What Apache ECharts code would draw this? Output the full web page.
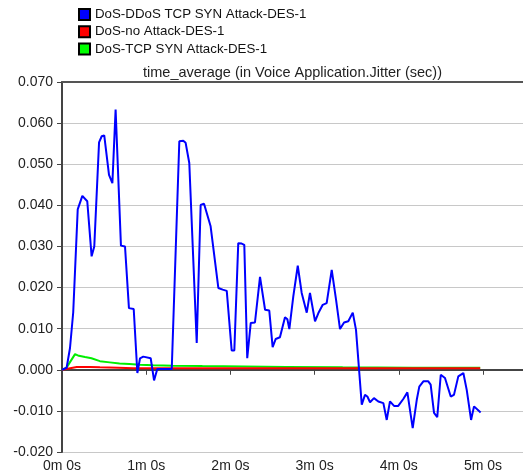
<!DOCTYPE html>
<html>
<head>
<meta charset="utf-8">
<script src="https://cdn.jsdelivr.net/npm/echarts@6/dist/echarts.min.js"></script>
<style>html,body{margin:0;padding:0;background:#fff}#c{width:523px;height:474px}</style>
</head>
<body>
<div id="c"></div>
<script>
const seriesNames = ["DoS-DDoS TCP SYN Attack-DES-1", "DoS-no Attack-DES-1", "DoS-TCP SYN Attack-DES-1"];
const titleText = "time_average (in Voice Application.Jitter (sec))";

const ddosTime = [0,1,3.3,5.7,8,11.2,14.5,18,21.1,23,26.4,28.3,30.1,33.5,35.9,38.2,39.4,42,44.9,47.7,51.1,53.7,55.6,57.9,63.2,65.6,67.9,70,78.2,83.6,86.4,88.1,90.7,96,98.8,101.2,105.9,111.4,114.5,117.4,120.9,122.8,125.6,128,129.9,132,134.5,137.5,141.1,144.7,147.7,150.1,152.3,155.3,158.9,160.6,162,164.8,168,170.8,174.4,176.7,180.3,182.7,185.8,188.6,192.2,195.3,198.1,201,204,207.2,209.5,213.6,215.9,217.6,219.5,222.3,225.4,229,231.4,233.7,236.6,239.6,243.2,246.1,249.9,252.8,254.6,257.5,261,262.7,265.1,267.4,269.9,272.9,277,279.3,282.4,286,288.4,291.5,293.6,295,298.3];
const ddosJitter = [0,0,0.0005,0.0053,0.014,0.039,0.0423,0.041,0.0276,0.030,0.0553,0.0568,0.057,0.0474,0.0454,0.0633,0.063,0.0302,0.030,0.015,0.0148,-0.0008,0.0028,0.0032,0.0028,-0.0026,0.0002,0.0002,0.0002,0.0556,0.0557,0.0552,0.0503,0.0065,0.0401,0.0404,0.0349,0.0199,0.0195,0.0192,0.0047,0.0047,0.0308,0.0307,0.0304,0.0028,0.0114,0.0115,0.0226,0.0146,0.0144,0.0055,0.0075,0.0079,0.0128,0.0123,0.0099,0.0178,0.0253,0.0187,0.0139,0.0187,0.0118,0.0138,0.0158,0.0162,0.0243,0.017,0.0099,0.0115,0.0118,0.0139,0.0097,-0.0085,-0.0061,-0.0065,-0.0079,-0.0069,-0.0077,-0.0081,-0.0122,-0.0077,-0.0088,-0.0088,-0.0071,-0.0055,-0.0142,-0.0073,-0.0041,-0.0028,-0.0028,-0.0036,-0.0105,-0.0115,-0.0012,-0.002,-0.0065,-0.0061,-0.0016,-0.0008,-0.0049,-0.0122,-0.0089,-0.0092,-0.0104];

const noAttackTime = [0,3,10.5,20,27,40,51,70,100,150,200,250,298];
const noAttackJitter = [0,0.0002,0.0007,0.0007,0.0006,0.0005,0.0004,0.0004,0.00035,0.00035,0.00035,0.00035,0.00035];

const synTime = [0,3,9.3,12,16.4,21,27,34,41,48,55.6,65,79,100,130,160,200,250,298];
const synJitter = [0,0.0004,0.0038,0.0034,0.0031,0.0028,0.0021,0.0018,0.0015,0.0014,0.0012,0.0011,0.001,0.0009,0.0008,0.0007,0.0006,0.0005,0.0005];

const yTickMin = -0.02, yTickMax = 0.07, yTickStep = 0.01;
const xTickStep = 60, xMax = 328.5;

function zip(t, v) { return t.map((x, i) => [x, v[i]]); }

const chart = echarts.init(document.getElementById('c'), null, {renderer: 'canvas'});
const font = 'Arial, "Liberation Sans", sans-serif';
chart.setOption({
  animation: false,
  backgroundColor: '#ffffff',
  textStyle: {fontFamily: font},
  title: {
    text: titleText,
    left: 143, top: 65, padding: 0,
    textStyle: {fontSize: 14.5, fontWeight: 'normal', color: '#222', fontFamily: font}
  },
  legend: {
    orient: 'vertical', left: 78, top: 8, padding: 0,
    itemWidth: 11, itemHeight: 11, itemGap: 4.2,
    icon: 'rect',
    data: [seriesNames[0], seriesNames[1], seriesNames[2]],
    textStyle: {fontSize: 13.3, color: '#111', fontFamily: font}
  },
  grid: {left: 62, top: 82, right: 0, bottom: 22, containLabel: false},
  xAxis: [{
    type: 'value', min: 0, max: xMax, interval: xTickStep,
    axisLine: {show: true, lineStyle: {color: '#444', width: 2}},
    axisTick: {show: true, length: 5, lineStyle: {color: '#444'}},
    axisLabel: {
      color: '#222', fontSize: 14, margin: 7, showMaxLabel: false,
      formatter: v => (Math.abs(v % 60) < 1e-6 ? Math.round(v / 60) + 'm 0s' : '')
    },
    splitLine: {show: false}
  }, {
    type: 'value', position: 'top', min: 0, max: xMax,
    axisLine: {show: true, onZero: false, lineStyle: {color: '#555', width: 2}},
    axisTick: {show: false}, axisLabel: {show: false}, splitLine: {show: false}
  }],
  yAxis: {
    type: 'value', min: yTickMin, max: yTickMax, interval: yTickStep,
    axisLine: {show: true, onZero: false, lineStyle: {color: '#444', width: 2}},
    axisTick: {show: true, length: 5, lineStyle: {color: '#444'}},
    axisLabel: {color: '#222', fontSize: 14, margin: 9, formatter: v => v.toFixed(3)},
    splitLine: {show: true, lineStyle: {color: '#c8c8c8', width: 1}}
  },
  series: [
    {name: seriesNames[2], type: 'line', data: zip(synTime, synJitter), showSymbol: false, symbol: 'none',
     lineStyle: {color: '#00ee00', width: 2}, itemStyle: {color: '#00ff00', borderColor: '#000', borderWidth: 1}},
    {name: seriesNames[1], type: 'line', data: zip(noAttackTime, noAttackJitter), showSymbol: false, symbol: 'none',
     lineStyle: {color: '#ff0000', width: 2}, itemStyle: {color: '#ff0000', borderColor: '#000', borderWidth: 1}},
    {name: seriesNames[0], type: 'line', data: zip(ddosTime, ddosJitter), showSymbol: false, symbol: 'none',
     lineStyle: {color: '#0000ff', width: 2}, itemStyle: {color: '#0000ff', borderColor: '#000', borderWidth: 1}}
  ]
});
</script>
</body>
</html>
